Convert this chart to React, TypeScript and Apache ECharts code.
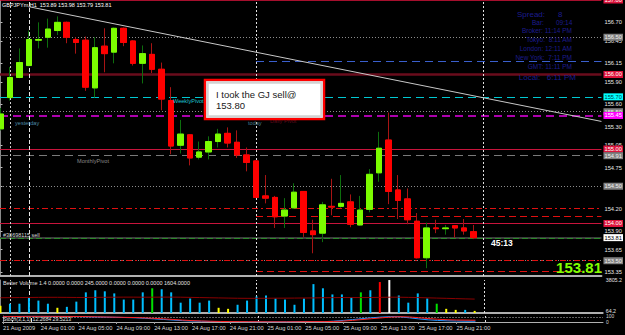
import { useEffect, useRef } from 'react';
import * as echarts from 'echarts';

const TIME_TICKS = [0, 4, 8, 12, 16, 20, 24, 28, 32, 36, 40, 44, 48];
const TIME_TICK_TEXT = [
  '21 Aug 2009', '24 Aug 01:00', '24 Aug 05:00', '24 Aug 09:00', '24 Aug 13:00', '24 Aug 17:00',
  '24 Aug 21:00', '25 Aug 01:00', '25 Aug 05:00', '25 Aug 09:00', '25 Aug 13:00', '25 Aug 17:00',
  '25 Aug 21:00',
];

const OPEN = [
  155.27, 155.69, 155.96, 156.12, 156.46, 156.50, 156.59, 156.70, 156.47, 156.46,
  155.82, 156.38, 156.30, 156.62, 156.45, 156.15, 156.27, 156.07, 155.65, 155.05,
  155.19, 154.89, 154.96, 155.10, 155.21, 155.09, 154.92, 154.84, 154.37, 154.35,
  154.10, 154.21, 154.43, 153.90, 153.87, 154.23, 154.23, 154.29, 153.98, 154.19,
  154.68, 155.12, 154.45, 154.33, 154.03, 153.54, 153.94, 153.93, 153.97, 153.94,
  153.89,
];
const CLOSE = [
  155.47, 155.96, 156.16, 156.47, 156.47, 156.61, 156.70, 156.50, 156.43, 155.83,
  156.36, 156.28, 156.62, 156.43, 156.15, 156.28, 156.07, 155.67, 155.04, 155.20,
  154.88, 154.96, 155.10, 155.20, 155.08, 154.92, 154.82, 154.35, 154.34, 154.09,
  154.18, 154.42, 153.88, 153.85, 154.25, 154.22, 154.27, 153.99, 154.18, 154.66,
  155.01, 154.43, 154.31, 154.05, 153.54, 153.94, 153.93, 153.94, 153.94, 153.90,
  153.81,
];
const LOW = [
  155.25, 155.65, 155.95, 156.11, 156.35, 156.36, 156.53, 156.42, 156.28, 155.78,
  155.69, 156.03, 156.15, 156.38, 156.12, 155.88, 156.02, 155.52, 154.93, 154.94,
  154.78, 154.86, 154.86, 155.02, 155.02, 154.88, 154.70, 154.34, 154.27, 153.94,
  153.94, 154.20, 153.82, 153.60, 153.75, 154.11, 154.21, 153.95, 153.97, 154.15,
  154.56, 154.26, 154.06, 153.99, 153.53, 153.40, 153.87, 153.85, 153.81, 153.85,
  153.79,
];
const HIGH = [
  155.55, 156.10, 156.35, 156.59, 156.70, 156.75, 156.78, 156.71, 156.50, 156.51,
  156.50, 156.62, 156.63, 156.63, 156.46, 156.39, 156.42, 156.16, 155.83, 155.39,
  155.20, 155.10, 155.17, 155.27, 155.29, 155.25, 155.02, 154.85, 154.65, 154.37,
  154.34, 154.54, 154.43, 154.05, 154.29, 154.60, 154.65, 154.39, 154.37, 154.73,
  155.23, 155.49, 154.65, 154.47, 154.14, 154.01, 154.05, 153.98, 153.97, 154.06,
  153.98,
];

const VOLUME = [
  830, 1070, 1070, 1780, 1430, 1070, 600, 710, 1310, 2380,
  2620, 2500, 2260, 1550, 1550, 2380, 2850, 2740, 2380, 1190,
  1670, 1190, 1430, 600, 480, 950, 1430, 1900, 2020, 1670,
  1550, 950, 1670, 3330, 2850, 2140, 2140, 1780, 2380, 2620,
  3570, 3800, 2020, 1190, 2260, 1670, 1070, 480, 360, 360,
  245,
];
// Better Volume bar class: Y low volume, C normal, G low churn, R climax up, W climax churn
const VOL_TYPE = [
  'Y', 'C', 'C', 'C', 'C', 'C', 'Y', 'C', 'C', 'C',
  'C', 'C', 'C', 'C', 'C', 'C', 'G', 'C', 'C', 'C',
  'C', 'C', 'C', 'Y', 'Y', 'C', 'C', 'C', 'C', 'C',
  'C', 'C', 'C', 'C', 'C', 'C', 'C', 'C', 'G', 'C',
  'R', 'W', 'C', 'C', 'C', 'C', 'G', 'Y', 'Y', 'C',
  'Y',
];
const VOL_MA = [
  1760, 1770, 1780, 1790, 1800, 1810, 1810, 1800, 1790, 1790,
  1800, 1810, 1820, 1830, 1830, 1820, 1820, 1830, 1830, 1820,
  1800, 1780, 1760, 1740, 1720, 1700, 1690, 1690, 1700, 1710,
  1710, 1720, 1730, 1740, 1760, 1770, 1780, 1780, 1780, 1790,
  1800, 1820, 1820, 1800, 1780, 1750, 1720, 1690, 1660, 1630,
  1604,
];

const STOCH_K = [
  92, 94, 95, 96, 95, 94, 93, 92, 90, 86,
  82, 80, 78, 74, 70, 62, 52, 42, 32, 22,
  16, 12, 9, 7, 6, 5, 4, 3, 3, 2,
  3, 6, 9, 7, 5, 14, 26, 40, 56, 70,
  82, 90, 86, 70, 52, 36, 26, 20, 16, 13,
  12.27,
];
const STOCH_D = [
  88, 91, 93, 95, 95, 95, 94, 93, 92, 89,
  86, 83, 80, 77, 74, 69, 61, 52, 42, 32,
  23, 17, 12, 9, 7, 6, 5, 4, 3, 3,
  3, 4, 6, 7, 7, 9, 15, 27, 41, 55,
  69, 81, 88, 84, 72, 58, 46, 38, 33, 31,
  29.52,
];

const PRICE_TICKS = [156.7, 156.45, 156.15, 155.9, 155.6, 155.3, 155.05, 154.75, 154.5, 154.2, 153.9, 153.65, 153.35];

// horizontal levels drawn on the chart (price values)
const LEVEL_PRICES = [157.0, 156.5, 156.18, 156.0, 155.7, 155.5, 155.45, 155.0, 154.91, 154.5, 154.2, 154.1, 154.0, 153.81, 153.8, 153.5, 153.36];
const VLINE_IDX = [1, 3, 27, 51];
const TREND_IDX = [3, 63.5];
const TREND_PRICE = [156.91, 155.37];
const TODAY_IDX = 27;
const X_MIN = -0.05;
const X_MAX = 63.5;

function hasFont(name: string): boolean {
  try {
    const ctx = document.createElement('canvas').getContext('2d');
    if (!ctx) return false;
    const sample = 'mmmwwwiiil 24 Aug 01:00 153.81';
    ctx.font = '30px monospace';
    const a = ctx.measureText(sample).width;
    ctx.font = `30px "${name}", monospace`;
    const b = ctx.measureText(sample).width;
    return Math.abs(a - b) > 0.5;
  } catch {
    return false;
  }
}

const FONT = '"Liberation Sans", Arial, sans-serif';

export default function App() {
  const ref = useRef<HTMLDivElement>(null);

  useEffect(() => {
    if (!ref.current) return;
    const chart = echarts.init(ref.current, undefined, { renderer: 'svg' });

    const narrow = hasFont('Liberation Sans Narrow');
    const NFONT = narrow ? '"Liberation Sans Narrow", "Liberation Sans", sans-serif' : FONT;
    const ns = (n: number) => (narrow ? n : +(n * 0.82).toFixed(2));

    const RED = '#dc143c';
    const GREY_BOX = '#808080';
    const levelStyles: any[] = [
      { lw: 1.5, c: RED, t: 'solid', box: RED, tc: '#ffffff' },
      { lw: 1, c: '#8c8c8c', t: [1, 2], box: GREY_BOX, tc: '#f0f0f0' },
      { lw: 1, c: '#3a5fcd', t: [8, 5], partial: true },
      { lw: 2.5, c: '#6a0c1c', t: 'solid', box: RED, tc: '#ffffff' },
      { lw: 1, c: '#00c8d2', t: [8, 5], box: '#00ffff', tc: '#003c3c' },
      { lw: 1, c: '#8c8c8c', t: [1, 2], box: GREY_BOX, tc: '#f0f0f0' },
      { lw: 1.5, c: '#e600e6', t: [8, 5], box: '#ff00ff', tc: '#ffffff' },
      { lw: 1, c: '#c8143c', t: 'solid', box: RED, tc: '#ffffff' },
      { lw: 1, c: '#7a7a7a', t: [8, 5], box: GREY_BOX, tc: '#f0f0f0' },
      { lw: 1, c: '#8c8c8c', t: [1, 2], box: GREY_BOX, tc: '#f0f0f0' },
      { lw: 1, c: '#e01010', t: [6, 3, 2, 3] },
      { lw: 1, c: '#e01010', t: [7, 4], partial: true },
      { lw: 1, c: '#c8143c', t: 'solid', box: RED, tc: '#ffffff' },
      { lw: 2, c: '#3c3c3c', t: 'solid', box: '#ffffff', tc: '#000000' },
      { lw: 1, c: '#2a8a2a', t: [6, 3] },
      { lw: 1, c: '#e01010', t: [6, 3, 2, 3], box: GREY_BOX, tc: '#f0f0f0' },
      { lw: 1, c: '#e01010', t: [7, 4], partial: true },
    ];

    const levelData: any[] = [];
    // grey dotted at 153.50 under the red dash-dot
    levelData.push({ yAxis: LEVEL_PRICES[15], lineStyle: { color: '#8c8c8c', width: 1, type: [1, 2] }, label: { show: false } });
    LEVEL_PRICES.forEach((p, i) => {
      const s = levelStyles[i];
      const lineStyle = { color: s.c, width: s.lw, type: s.t };
      const label = s.box
        ? {
            show: true, position: 'end', distance: 2, formatter: p.toFixed(2),
            backgroundColor: s.box, color: s.tc, fontSize: ns(7), fontFamily: NFONT,
            padding: [1, 1, 0, 1],
          }
        : { show: false };
      if (s.partial) {
        levelData.push([
          { coord: [TODAY_IDX, p], lineStyle, label },
          { coord: [X_MAX, p] },
        ]);
      } else {
        levelData.push({ yAxis: p, lineStyle, label });
      }
    });

    const vlineStyles = [
      { color: '#cfcfcf', width: 1, type: [2, 2] },
      { color: '#e6e6e6', width: 1, type: [4, 2] },
      { color: '#e0e0e0', width: 1, type: [2, 2] },
      { color: '#e0e0e0', width: 1, type: [2, 2] },
    ];
    const vlineData = VLINE_IDX.map((idx, i) => ({ xAxis: idx, lineStyle: vlineStyles[i], label: { show: false } }));

    const trendData = [[
      { coord: [TREND_IDX[0], TREND_PRICE[0]], lineStyle: { color: '#c8c8c8', width: 1, type: 'solid' }, label: { show: false } },
      { coord: [TREND_IDX[1], TREND_PRICE[1]] },
    ]];

    const mk = (data: any[]) => ({
      silent: true, symbol: ['none', 'none'], z: 1, animation: false,
      emphasis: { disabled: true }, label: { show: false }, data,
    });

    const ohlc = OPEN.map((o, i) => [i, o, CLOSE[i], LOW[i], HIGH[i]]);
    const bodies = OPEN.map((o, i) => [i, o, CLOSE[i], Math.min(o, CLOSE[i]), Math.max(o, CLOSE[i])]);

    const volColors: Record<string, string> = { Y: '#ffff00', C: '#00bfff', G: '#00e000', R: '#ff0000', W: '#ffffff' };
    const volData = VOLUME.map((v, i) => ({ value: [i, v], itemStyle: { color: volColors[VOL_TYPE[i]] } }));
    const pairs = (arr: number[]) => arr.map((v, i) => [i, v]);

    const txt = (x: number, y: number, text: string, fill: string, size: number, extra: any = {}) => ({
      type: 'text', x, y, silent: true, z: 100,
      style: {
        text, fill, fontSize: size, fontFamily: extra.font || FONT, fontWeight: extra.bold ? 'bold' : 'normal',
        align: extra.align || 'left', verticalAlign: 'middle',
      },
    });

    const INFO = '#1c1c8e';
    const graphic: any[] = [
      txt(2, 5, 'GBPJPYm,H1  153.89 153.98 153.79 153.81', '#ffffff', ns(6.7), { font: NFONT }),
      txt(517, 14, 'Spread:', INFO, 8),
      txt(558, 14, '8', INFO, 8),
      txt(532, 22, 'Bar:', INFO, 6.5),
      txt(556, 22, '09:14', INFO, 6.5),
      txt(572, 30, 'Broker: 11:14 PM', INFO, 6.5, { align: 'right' }),
      txt(572, 39, 'Tokyo:  8:11 AM', INFO, 6.5, { align: 'right' }),
      txt(572, 48, 'London: 12:11 AM', INFO, 6.5, { align: 'right' }),
      txt(572, 57, 'New York:  7:11 PM', INFO, 6.5, { align: 'right' }),
      txt(572, 66, 'GMT: 11:11 PM', INFO, 6.5, { align: 'right' }),
      txt(576, 77, 'Local:   6:11 PM', INFO, 8, { align: 'right' }),
      txt(173, 101, 'WeeklyPivot', '#1ec8d2', ns(6.8), { font: NFONT }),
      txt(15, 123, 'yesterday', '#4d8aa8', ns(6.8), { font: NFONT }),
      txt(248, 123, 'today', '#4a7f8f', ns(6.8), { font: NFONT }),
      txt(270, 121, 'Daily Pivot', '#5c0a1a', ns(6.8), { font: NFONT }),
      txt(77, 161, 'MonthlyPivot', '#8a8a8a', ns(6.8), { font: NFONT }),
      txt(3, 235, '#38698115 sell', '#d8d8d8', ns(6.7), { font: NFONT }),
      txt(491, 243, '45:13', '#ffffff', 8.5, { bold: true }),
      txt(602, 267, '153.81', '#7fff00', 15, { bold: true, align: 'right' }),
      txt(3, 283, 'Better Volume 1.4 0.0000 0.0000 245.0000 0.0000 0.0000 0.0000 1604.0000', '#e0e0e0', ns(6.7), { font: NFONT }),
      txt(3, 319, 'Stoch(3,1,1) 12.2684 29.5213', '#e0e0e0', ns(6.3), { font: NFONT }),
      { type: 'rect', z: 100, silent: true, shape: { x: 205, y: 80, width: 119, height: 39 }, style: { fill: '#ffffff', stroke: '#ff0000', lineWidth: 2.5 } },
      { type: 'rect', z: 101, silent: true, shape: { x: 207.5, y: 82.5, width: 114, height: 34 }, style: { fill: 'none', stroke: '#d2d2d2', lineWidth: 2.5 } },
      { type: 'text', z: 102, silent: true, x: 216, y: 94, style: { text: 'I took the GJ sell@', fill: '#202020', fontSize: 9.5, fontFamily: FONT, verticalAlign: 'middle' } },
      { type: 'text', z: 102, silent: true, x: 216, y: 105, style: { text: '153.80', fill: '#202020', fontSize: 9.5, fontFamily: FONT, verticalAlign: 'middle' } },
    ];

    const sepColor = '#b0b0b0';

    const option: any = {
      backgroundColor: '#000000',
      animation: false,
      grid: [
        { left: 0, top: 0, width: 603, height: 276 },
        { left: 0, top: 280, width: 603, height: 33 },
        { left: 0, top: 316, width: 603, height: 6 },
      ],
      xAxis: [0, 1, 2].map((g) => ({
        type: 'value', gridIndex: g, min: X_MIN, max: X_MAX,
        axisLine: { show: true, onZero: false, lineStyle: { color: sepColor, width: g === 2 ? 1 : 2 } },
        axisTick: g === 2
          ? { show: true, customValues: TIME_TICKS, length: 2, lineStyle: { color: '#a0a0a0' } }
          : { show: false },
        axisLabel: g === 2
          ? {
              show: true, customValues: TIME_TICKS,
              formatter: (v: number) => {
                const k = TIME_TICKS.indexOf(Math.round(v));
                return k >= 0 ? TIME_TICK_TEXT[k] : '';
              },
              align: 'left', fontSize: ns(7), fontFamily: NFONT, color: '#d8d8d8', margin: 3,
            }
          : { show: false },
        splitLine: { show: false },
      })),
      yAxis: [
        {
          type: 'value', gridIndex: 0, position: 'right', min: 153.295, max: 157.0,
          axisLine: { show: true, lineStyle: { color: '#8a8a8a', width: 1 } },
          axisTick: { show: true, customValues: PRICE_TICKS, length: 2, lineStyle: { color: '#bdbdbd' } },
          axisLabel: {
            show: true, customValues: PRICE_TICKS, formatter: (v: number) => v.toFixed(2),
            fontSize: ns(7), fontFamily: NFONT, color: '#e6e6e6', margin: 3,
          },
          splitLine: { show: false },
        },
        {
          type: 'value', gridIndex: 1, position: 'right', min: 0, max: 3805,
          axisLine: { show: true, lineStyle: { color: '#8a8a8a', width: 1 } },
          axisTick: { show: false },
          axisLabel: {
            show: true, customValues: [3805, 250], formatter: (v: number) => (v > 1000 ? '3805.2' : '64.2'),
            fontSize: ns(6.5), fontFamily: NFONT, color: '#e0e0e0', margin: 3,
          },
          splitLine: { show: false },
        },
        {
          type: 'value', gridIndex: 2, position: 'right', min: 0, max: 100,
          axisLine: { show: true, lineStyle: { color: '#8a8a8a', width: 1 } },
          axisTick: { show: false },
          axisLabel: {
            show: true, customValues: [100, 0], formatter: (v: number) => String(v),
            fontSize: ns(6), fontFamily: NFONT, color: '#d0d0d0', margin: 3,
          },
          splitLine: { show: false },
        },
      ],
      graphic,
      series: [
        {
          type: 'candlestick', name: 'wick', xAxisIndex: 0, yAxisIndex: 0, data: ohlc,
          encode: { x: 0, y: [1, 2, 3, 4] },
          barWidth: 6, z: 3, silent: true,
          itemStyle: { color: '#0d6e0d', color0: '#a81414', borderColor: '#0d6e0d', borderColor0: '#a81414', borderWidth: 1 },
          markLine: mk([...levelData, ...vlineData, ...trendData]),
        },
        {
          type: 'candlestick', name: 'body', xAxisIndex: 0, yAxisIndex: 0, data: bodies,
          encode: { x: 0, y: [1, 2, 3, 4] },
          barWidth: 6, z: 4, silent: true,
          itemStyle: { color: '#7cfc00', color0: '#ff0000', borderColor: '#7cfc00', borderColor0: '#ff0000', borderWidth: 1 },
        },
        {
          type: 'bar', name: 'volume', xAxisIndex: 1, yAxisIndex: 1, data: volData,
          barWidth: 2, z: 3, silent: true,
          markLine: mk(vlineData),
        },
        {
          type: 'line', name: 'volMA', xAxisIndex: 1, yAxisIndex: 1, data: pairs(VOL_MA),
          showSymbol: false, symbol: 'none', z: 4, silent: true,
          lineStyle: { color: '#8b0000', width: 1 },
        },
        {
          type: 'line', name: 'K', xAxisIndex: 2, yAxisIndex: 2, data: pairs(STOCH_K),
          showSymbol: false, symbol: 'none', z: 4, silent: true,
          lineStyle: { color: '#1e90ff', width: 1 },
          markLine: mk([
            ...vlineData,
            { yAxis: 80, lineStyle: { color: '#c0c0c0', width: 1, type: [1, 2] }, label: { show: false } },
          ]),
        },
        {
          type: 'line', name: 'D', xAxisIndex: 2, yAxisIndex: 2, data: pairs(STOCH_D),
          showSymbol: false, symbol: 'none', z: 5, silent: true,
          lineStyle: { color: '#ff2020', width: 1 },
        },
      ],
    };

    chart.setOption(option);
    return () => chart.dispose();
  }, []);

  return (
    <div
      ref={ref}
      style={{ position: 'fixed', left: 0, top: 0, width: 625, height: 335, background: '#000' }}
    />
  );
}
